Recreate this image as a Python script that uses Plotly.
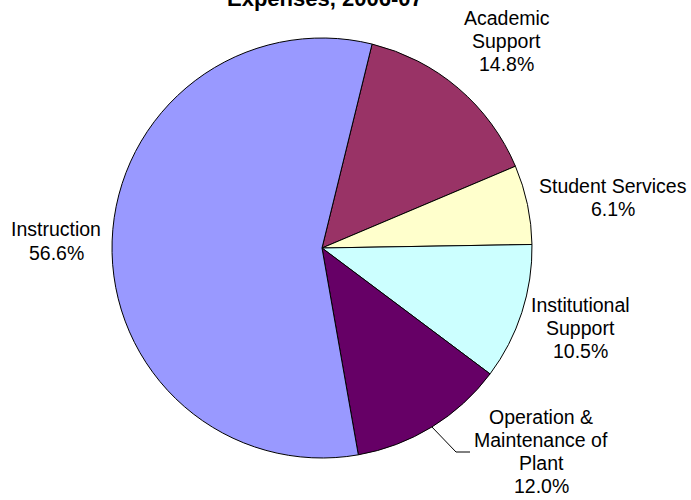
import math
import plotly.graph_objects as go

# Expense categories and their shares of the total (%), listed clockwise
categories = ["Academic Support", "Student Services", "Institutional Support",
              "Operation & Maintenance of Plant", "Instruction"]
shares = [14.8, 6.1, 10.5, 12.0, 56.6]
colors = ["#993366", "#FFFFCC", "#CCFFFF", "#660066", "#9999FF"]

# Label text split into display lines
label_lines = [["Academic", "Support"], ["Student Services"],
               ["Institutional", "Support"],
               ["Operation &", "Maintenance of", "Plant"], ["Instruction"]]
# Label block anchor (pixels: centre x, first-line y)
label_pos = [(507, 18), (613, 186), (580, 305), (541, 416.5), (56, 229.5)]

W, H = 691, 500
CX, CY, R = 322, 248, 210
ROTATION = 13.8
FONT = "Liberation Sans, Arial, sans-serif"
FS = 19.5
LINE_H = 23

fig = go.Figure(go.Pie(
    labels=categories,
    values=shares,
    sort=False,
    direction="clockwise",
    rotation=ROTATION,
    marker=dict(colors=colors, line=dict(color="#000000", width=1)),
    textinfo="none",
    hoverinfo="label+percent",
    domain=dict(x=[(CX - R) / W, (CX + R) / W],
                y=[(H - CY - R) / H, (H - CY + R) / H]),
    showlegend=False,
))


def px(x, y):
    return x / W, (H - y) / H


annotations = []
total = sum(shares)
for lines, val, (lx, ly) in zip(label_lines, shares, label_pos):
    pct = 100 * val / total
    for i, t in enumerate(lines + [f"{pct:.1f}%"]):
        ax, ay = px(lx, ly + i * LINE_H)
        annotations.append(dict(
            x=ax, y=ay, xref="paper", yref="paper", text=t, showarrow=False,
            xanchor="center", yanchor="middle",
            font=dict(family=FONT, size=FS, color="#000000")))

# Title (second line)
tx, ty = px(325, 13)
annotations.append(dict(
    x=tx, y=ty, xref="paper", yref="paper", text="<b>Expenses, 2006-07</b>",
    showarrow=False, xanchor="center", yanchor="bottom",
    font=dict(family=FONT, size=22, color="#000000")))

# Leader line from the Operation & Maintenance slice to its label
cum = 0.0
for name, v in zip(categories, shares):
    if name.startswith("Operation"):
        mid = ROTATION + 360 * (cum + v / 2) / total
        break
    cum += v
sx = CX + R * math.sin(math.radians(mid))
sy = CY - R * math.cos(math.radians(mid))
p0 = px(sx, sy)
p1 = px(456, 452)
p2 = px(470, 452)
fig.add_shape(type="path", xref="paper", yref="paper",
              path=f"M {p0[0]},{p0[1]} L {p1[0]},{p1[1]} L {p2[0]},{p2[1]}",
              line=dict(color="#000000", width=1))

fig.update_layout(
    width=W, height=H,
    margin=dict(l=0, r=0, t=0, b=0),
    paper_bgcolor="#FFFFFF",
    plot_bgcolor="#FFFFFF",
    annotations=annotations,
)

fig.write_html("out.html")
